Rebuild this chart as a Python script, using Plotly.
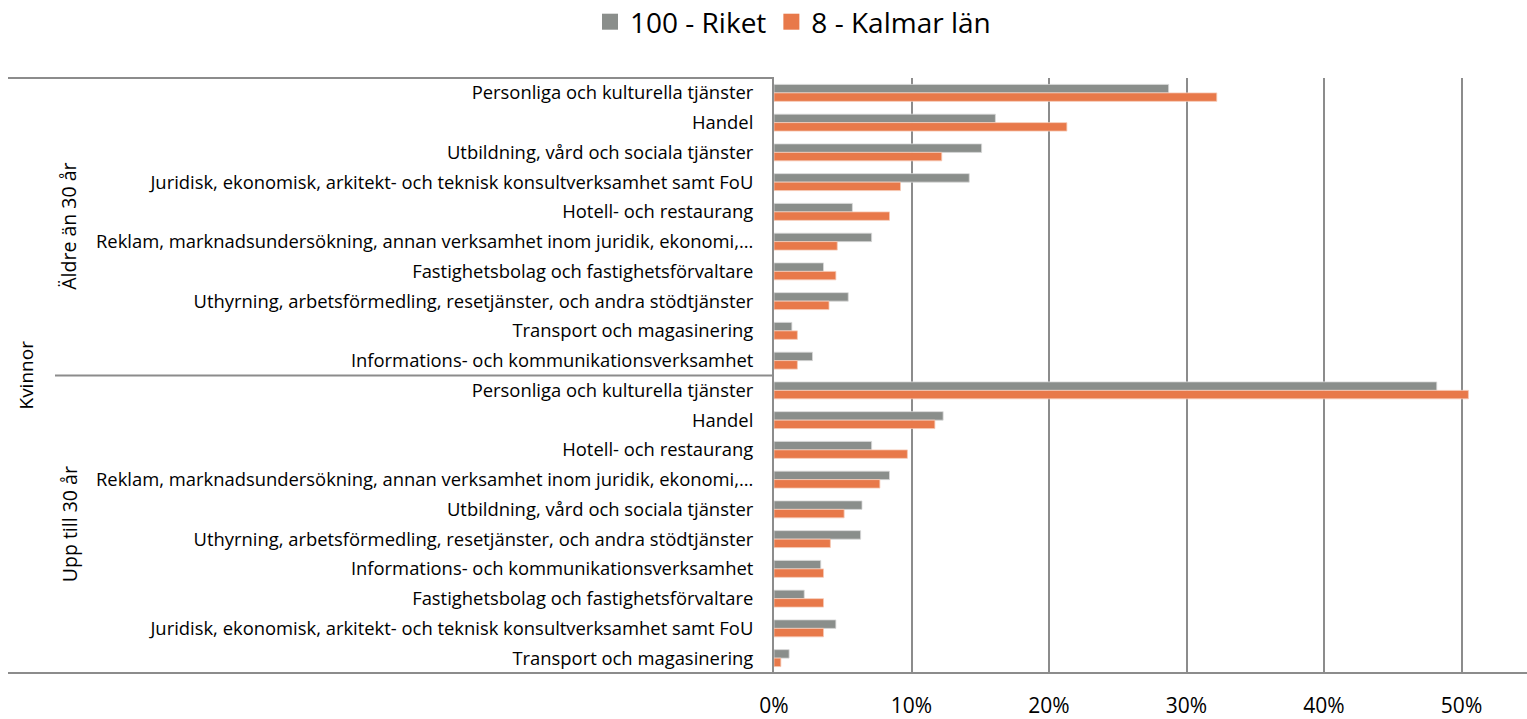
import plotly.graph_objects as go

# ---- data ----
outer_group = "Kvinnor"
age_groups = ["Äldre än 30 år", "Upp till 30 år"]
industries_older = [
    "Personliga och kulturella tjänster",
    "Handel",
    "Utbildning, vård och sociala tjänster",
    "Juridisk, ekonomisk, arkitekt- och teknisk konsultverksamhet samt FoU",
    "Hotell- och restaurang",
    "Reklam, marknadsundersökning, annan verksamhet inom juridik, ekonomi,…",
    "Fastighetsbolag och fastighetsförvaltare",
    "Uthyrning, arbetsförmedling, resetjänster, och andra stödtjänster",
    "Transport och magasinering",
    "Informations- och kommunikationsverksamhet",
]
industries_young = [
    "Personliga och kulturella tjänster",
    "Handel",
    "Hotell- och restaurang",
    "Reklam, marknadsundersökning, annan verksamhet inom juridik, ekonomi,…",
    "Utbildning, vård och sociala tjänster",
    "Uthyrning, arbetsförmedling, resetjänster, och andra stödtjänster",
    "Informations- och kommunikationsverksamhet",
    "Fastighetsbolag och fastighetsförvaltare",
    "Juridisk, ekonomisk, arkitekt- och teknisk konsultverksamhet samt FoU",
    "Transport och magasinering",
]
riket_older = [0.287, 0.161, 0.151, 0.142, 0.057, 0.071, 0.036, 0.054, 0.013, 0.028]
kalmar_older = [0.322, 0.213, 0.122, 0.092, 0.084, 0.046, 0.045, 0.040, 0.017, 0.017]
riket_young = [0.482, 0.123, 0.071, 0.084, 0.064, 0.063, 0.034, 0.022, 0.045, 0.011]
kalmar_young = [0.505, 0.117, 0.097, 0.077, 0.051, 0.041, 0.036, 0.036, 0.036, 0.005]
series_names = ["100 - Riket", "8 - Kalmar län"]
x_tick_vals = [0, 0.1, 0.2, 0.3, 0.4, 0.5]
x_tick_text = ["0%", "10%", "20%", "30%", "40%", "50%"]

# ---- build ----
labels = industries_older + industries_young
positions = list(range(len(labels)))
riket = riket_older + riket_young
kalmar = kalmar_older + kalmar_young

GRAY = "#8A8E8B"
ORANGE = "#E8794A"
LINE = "#8C8C8C"
FONT = "Open Sans"
W, H = 1527, 719
x0 = 774 / W
x_left = 8 / W
x_mid = 55 / W

fig = go.Figure()
fig.add_trace(go.Bar(y=positions, x=riket, orientation="h", name=series_names[0], showlegend=False,
                     marker=dict(color=GRAY, line=dict(color="#D9D9D9", width=0.8))))
fig.add_trace(go.Bar(y=positions, x=kalmar, orientation="h", name=series_names[1], showlegend=False,
                     marker=dict(color=ORANGE, line=dict(color="#F6C9B5", width=0.8))))
# legend entries with square swatches like the reference
for name, col in zip(series_names, [GRAY, ORANGE]):
    fig.add_trace(go.Scatter(x=[None], y=[None], mode="markers", name=name,
                             marker=dict(symbol="square", size=17, color=col)))

n = len(labels)
n_old = len(industries_older)

shapes = [
    dict(type="line", xref="paper", yref="paper", x0=x_left, x1=x0, y0=1, y1=1,
         line=dict(color=LINE, width=2)),
    dict(type="line", xref="paper", yref="paper", x0=x_left, x1=1, y0=0, y1=0,
         line=dict(color=LINE, width=2)),
    dict(type="line", xref="paper", yref="y", x0=x_mid, x1=x0, y0=n_old - 0.5, y1=n_old - 0.5,
         line=dict(color=LINE, width=2)),
]

annotations = [
    dict(text=outer_group, xref="paper", yref="y", x=25 / W, y=n_old - 0.5, showarrow=False,
         textangle=-90, font=dict(family=FONT, size=19, color="#000000"), xanchor="center", yanchor="middle"),
    dict(text=age_groups[0], xref="paper", yref="y", x=69 / W, y=(n_old - 1) / 2, showarrow=False,
         textangle=-90, font=dict(family=FONT, size=19.5, color="#000000"), xanchor="center", yanchor="middle"),
    dict(text=age_groups[1], xref="paper", yref="y", x=69 / W, y=n_old + (n - n_old - 1) / 2, showarrow=False,
         textangle=-90, font=dict(family=FONT, size=19.5, color="#000000"), xanchor="center", yanchor="middle"),
]

fig.update_layout(
    width=W, height=H,
    margin=dict(l=0, r=0, t=78, b=46, autoexpand=False),
    plot_bgcolor="white", paper_bgcolor="white",
    barmode="group", bargap=0.43, bargroupgap=0,
    font=dict(family=FONT, color="#000000"),
    legend=dict(orientation="h", x=793 / W, xanchor="center", y=1 - 22 / H, yanchor="middle",
                xref="container", yref="container", font=dict(family=FONT, size=28, color="#000000"),
                traceorder="normal", itemwidth=30, itemsizing="trace"),
    xaxis=dict(domain=[x0, 1], range=[0, 0.5476], tickvals=x_tick_vals, ticktext=x_tick_text,
               showgrid=True, gridcolor=LINE, gridwidth=2, zeroline=False,
               showline=False, ticks="", ticklabelstandoff=18, automargin=False,
               tickfont=dict(family=FONT, size=21, color="#000000"), fixedrange=True),
    yaxis=dict(range=[n - 0.5, -0.5], tickvals=positions, ticktext=labels,
               showgrid=False, zeroline=False, showline=True, linecolor=LINE, linewidth=2,
               ticks="", ticklabelstandoff=15, fixedrange=True,
               tickfont=dict(family=FONT, size=18.4, color="#000000"), automargin=False),
    shapes=shapes,
    annotations=annotations,
)

# remove the page's default body margin so the figure fills the window exactly
fig.write_html("out.html", config={"displayModeBar": False},
               post_script="document.body.style.margin='0';")
